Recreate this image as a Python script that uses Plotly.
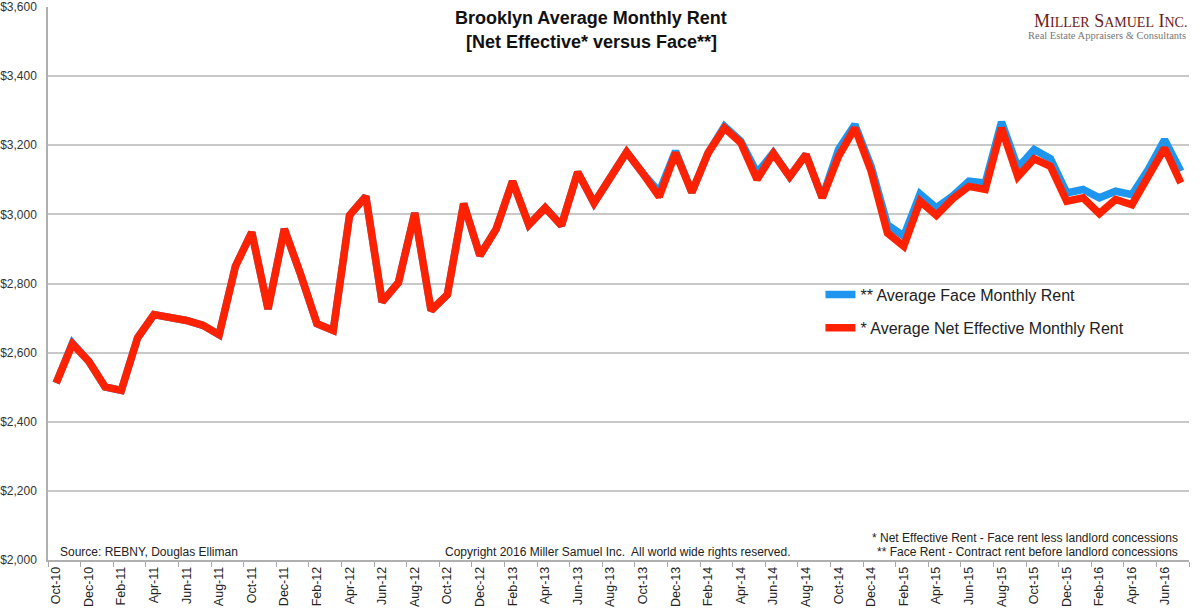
import plotly.graph_objects as go

months = ["Oct-10","Nov-10","Dec-10","Jan-11","Feb-11","Mar-11","Apr-11","May-11","Jun-11","Jul-11",
          "Aug-11","Sep-11","Oct-11","Nov-11","Dec-11","Jan-12","Feb-12","Mar-12","Apr-12","May-12",
          "Jun-12","Jul-12","Aug-12","Sep-12","Oct-12","Nov-12","Dec-12","Jan-13","Feb-13","Mar-13",
          "Apr-13","May-13","Jun-13","Jul-13","Aug-13","Sep-13","Oct-13","Nov-13","Dec-13","Jan-14",
          "Feb-14","Mar-14","Apr-14","May-14","Jun-14","Jul-14","Aug-14","Sep-14","Oct-14","Nov-14",
          "Dec-14","Jan-15","Feb-15","Mar-15","Apr-15","May-15","Jun-15","Jul-15","Aug-15","Sep-15",
          "Oct-15","Nov-15","Dec-15","Jan-16","Feb-16","Mar-16","Apr-16","May-16","Jun-16","Jul-16"]

net_effective = [2512, 2625, 2575, 2501, 2491, 2643, 2710, 2702, 2693, 2679,
                 2652, 2850, 2948, 2726, 2958, 2826, 2684, 2664, 2997, 3052,
                 2747, 2803, 3004, 2722, 2768, 3031, 2881, 2958, 3096, 2970,
                 3019, 2968, 3122, 3033, 3109, 3180, 3118, 3051, 3178, 3064,
                 3178, 3250, 3207, 3101, 3176, 3109, 3173, 3048, 3168, 3250,
                 3125, 2946, 2908, 3038, 2997, 3045, 3081, 3072, 3250, 3109,
                 3161, 3139, 3038, 3048, 3002, 3043, 3028, 3106, 3192, 3091]

face = [2512, 2628, 2575, 2501, 2491, 2643, 2710, 2702, 2693, 2679,
        2652, 2850, 2948, 2726, 2958, 2826, 2684, 2664, 2997, 3052,
        2747, 2803, 3004, 2722, 2768, 3031, 2881, 2958, 3096, 2970,
        3019, 2968, 3122, 3033, 3109, 3180, 3118, 3065, 3183, 3064,
        3178, 3255, 3212, 3120, 3178, 3109, 3173, 3048, 3188, 3260,
        3139, 2970, 2937, 3059, 3019, 3053, 3096, 3091, 3267, 3135,
        3188, 3161, 3062, 3072, 3048, 3067, 3057, 3130, 3216, 3125]

y_ticks = [2000, 2200, 2400, 2600, 2800, 3000, 3200, 3400, 3600]
y_labels = ["$2,000", "$2,200", "$2,400", "$2,600", "$2,800", "$3,000", "$3,200", "$3,400", "$3,600"]

fig = go.Figure()
fig.add_trace(go.Scatter(x=months, y=face, mode="lines", name="** Average Face Monthly Rent",
                         line=dict(color="#1E96F0", width=7.5), legend="legend"))
fig.add_trace(go.Scatter(x=months, y=net_effective, mode="lines",
                         name="* Average Net Effective Monthly Rent",
                         line=dict(color="#FF2200", width=7.5), legend="legend2"))

legend_common = dict(bgcolor="rgba(0,0,0,0)", font=dict(family="Arial, Liberation Sans", size=16, color="#222"),
                     xanchor="left", yanchor="middle", itemwidth=30, tracegroupgap=0)
fig.update_layout(
    width=1200, height=609,
    margin=dict(l=48, r=11, t=7, b=49, autoexpand=False),
    plot_bgcolor="white", paper_bgcolor="white",
    font=dict(family="Arial, Liberation Sans", color="#222"),
    showlegend=True,
    legend=dict(x=0.677, y=0.480, **legend_common),
    legend2=dict(x=0.677, y=0.420, **legend_common),
    xaxis=dict(type="category", range=[-0.5, len(months) - 0.5], tickmode="linear", tick0=0, dtick=2,
               tickangle=-90, tickson="boundaries", ticks="outside", ticklen=5, tickcolor="#aaa",
               showgrid=False, showline=True, linecolor="#b0b0b0", linewidth=1.5, automargin=False,
               tickfont=dict(size=12.5, color="#222")),
    yaxis=dict(range=[2000, 3600], tickvals=y_ticks, ticktext=y_labels, showgrid=True,
               gridcolor="#c8c8c8", gridwidth=1.5, zeroline=False, showline=True, automargin=False,
               linecolor="#b0b0b0", linewidth=1.5, ticks="", ticklabelstandoff=7,
               tickfont=dict(size=12, color="#333")),
)

fig.add_annotation(text="<b>Brooklyn Average Monthly Rent</b>", xref="paper", yref="paper",
                   x=(591 - 48) / 1141, y=1 - (18.5 - 7.5) / 552.5, showarrow=False,
                   font=dict(size=18, color="#111"), xanchor="center", yanchor="middle")
fig.add_annotation(text="<b>[Net Effective* versus Face**]</b>", xref="paper", yref="paper",
                   x=(591 - 48) / 1141, y=1 - (42 - 7.5) / 552.5, showarrow=False,
                   font=dict(size=18, color="#111"), xanchor="center", yanchor="middle")

fig.add_annotation(text="M<span style='font-size:14px'>ILLER</span> S<span style='font-size:14px'>AMUEL</span> I<span style='font-size:14px'>NC.</span>",
                   xref="paper", yref="paper", x=1, y=1 - (21 - 7.5) / 552.5, showarrow=False,
                   font=dict(family="Liberation Serif, Times New Roman", size=18, color="#6B1A1A"),
                   xanchor="right", yanchor="middle")
fig.add_annotation(text="Real Estate Appraisers &amp; Consultants",
                   xref="paper", yref="paper", x=(1188 - 48) / 1141, y=1 - (36 - 7.5) / 552.5, showarrow=False,
                   font=dict(family="Liberation Serif, Times New Roman", size=10.5, color="#777"),
                   xanchor="right", yanchor="middle")

fig.add_annotation(text="Source: REBNY, Douglas Elliman", xref="paper", yref="paper",
                   x=(58 - 48) / 1141, y=1 - (552 - 7.5) / 552.5, showarrow=False,
                   font=dict(size=12, color="#222"), xanchor="left", yanchor="middle")
fig.add_annotation(text="Copyright 2016 Miller Samuel Inc.&nbsp; All world wide rights reserved.",
                   xref="paper", yref="paper",
                   x=(443 - 48) / 1141, y=1 - (552 - 7.5) / 552.5, showarrow=False,
                   font=dict(size=12, color="#222"), xanchor="left", yanchor="middle")
fig.add_annotation(text="* Net Effective Rent - Face rent less landlord concessions", xref="paper", yref="paper",
                   x=(1180 - 48) / 1141, y=1 - (538 - 7.5) / 552.5, showarrow=False,
                   font=dict(size=12, color="#222"), xanchor="right", yanchor="middle")
fig.add_annotation(text="** Face Rent - Contract rent before landlord concessions", xref="paper", yref="paper",
                   x=(1180 - 48) / 1141, y=1 - (552 - 7.5) / 552.5, showarrow=False,
                   font=dict(size=12, color="#222"), xanchor="right", yanchor="middle")

fig.write_html("out.html", config={"displayModeBar": False},
               post_script="document.body.style.margin='0';document.body.style.overflow='hidden';")
